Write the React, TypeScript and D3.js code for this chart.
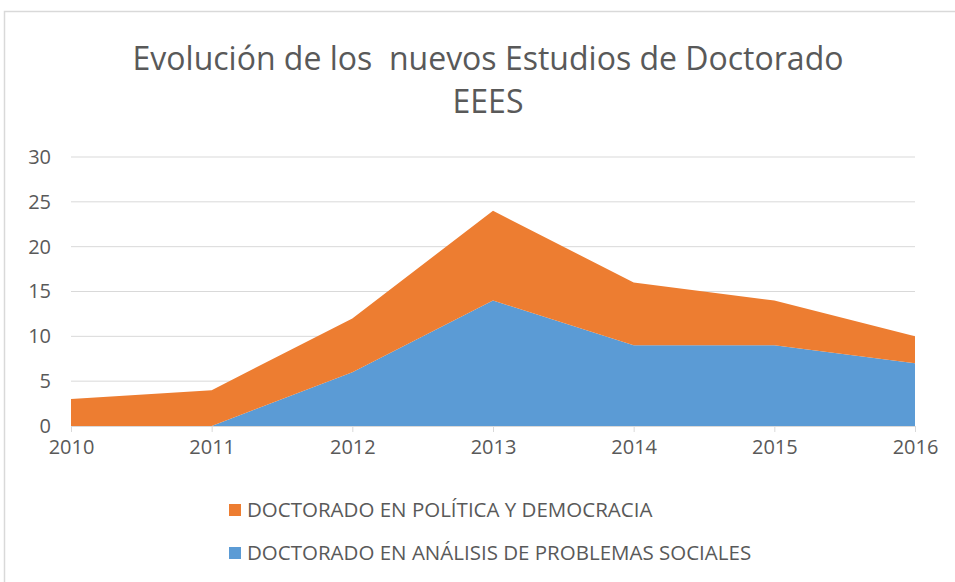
import { useEffect, useRef } from "react";
import * as d3 from "d3";

const years = [2010, 2011, 2012, 2013, 2014, 2015, 2016];
const sociales = [0, 0, 6, 14, 9, 9, 7];
const politica = [3, 4, 6, 10, 7, 5, 3];
const yTicks = [0, 5, 10, 15, 20, 25, 30];
const seriesNames = ["DOCTORADO EN ANÁLISIS DE PROBLEMAS SOCIALES", "DOCTORADO EN POLÍTICA Y DEMOCRACIA"];
const colors = ["#5B9BD5", "#ED7D31"];

export default function App() {
  const ref = useRef<SVGSVGElement>(null);

  useEffect(() => {
    const svg = d3.select(ref.current);
    svg.selectAll("*").remove();
    const font = "'Open Sans', sans-serif";

    // chart border
    svg.append("rect")
      .attr("x", 4.5).attr("y", 11.5).attr("width", 960).attr("height", 600)
      .attr("fill", "#fff").attr("stroke", "#d9d9d9").attr("stroke-width", 1.5);

    const x = d3.scaleLinear().domain([2010, 2016]).range([71, 915]);
    const y = d3.scaleLinear().domain([0, 30]).range([426, 157]);

    const table = years.map((yr, i) => ({ year: yr, a: sociales[i], b: politica[i] }));
    const stacked = d3.stack<any>().keys(["a", "b"])(table);

    const g = svg.append("g");

    // gridlines
    g.selectAll(".grid").data(yTicks.slice(1)).enter().append("line")
      .attr("x1", x(2010)).attr("x2", x(2016))
      .attr("y1", d => y(d)).attr("y2", d => y(d))
      .attr("stroke", "#d9d9d9").attr("stroke-width", 1);

    const area = d3.area<any>()
      .x(d => x(d.data.year))
      .y0(d => y(d[0]))
      .y1(d => y(d[1]));

    g.selectAll(".layer").data(stacked).enter().append("path")
      .attr("d", d => area(d as any))
      .attr("fill", (_, i) => colors[i]);

    // x axis
    const xAxis = d3.axisBottom(x).tickValues(years).tickFormat(d3.format("d")).tickSize(6).tickPadding(8);
    const xg = g.append("g").attr("transform", `translate(0,${y(0)})`).call(xAxis);
    xg.select(".domain").attr("stroke", "#d9d9d9");
    xg.selectAll(".tick line").attr("stroke", "#d9d9d9");
    xg.selectAll("text").attr("fill", "#595959").style("font-size", "20px").style("font-family", font);

    // y axis labels
    const yAxis = d3.axisLeft(y).tickValues(yTicks).tickSize(0).tickPadding(20);
    const yg = g.append("g").attr("transform", `translate(${x(2010)},0)`).call(yAxis);
    yg.select(".domain").remove();
    yg.selectAll("text").attr("fill", "#595959").style("font-size", "20px").style("font-family", font);

    // title
    const title = svg.append("text").attr("text-anchor", "middle")
      .attr("fill", "#595959").style("font-family", font).style("font-size", "32px");
    title.append("tspan").attr("x", 488).attr("y", 70).text("Evolución de los  nuevos Estudios de Doctorado").attr("xml:space", "preserve");
    title.append("tspan").attr("x", 488).attr("y", 113).text("EEES");

    // legend
    const legendOrder = [1, 0];
    const lg = svg.append("g").selectAll("g").data(legendOrder).enter().append("g")
      .attr("transform", (_, i) => `translate(229,${510 + i * 43})`);
    lg.append("rect").attr("x", 0).attr("y", -6).attr("width", 12).attr("height", 12)
      .attr("fill", d => colors[d]);
    lg.append("text").attr("x", 18).attr("y", 0).attr("dy", "0.35em")
      .attr("fill", "#595959").style("font-family", font).style("font-size", "20.5px")
      .text(d => seriesNames[d]);
  }, []);

  return <svg ref={ref} width={955} height={582} style={{ position: "absolute", left: 0, top: 0 }} />;
}
